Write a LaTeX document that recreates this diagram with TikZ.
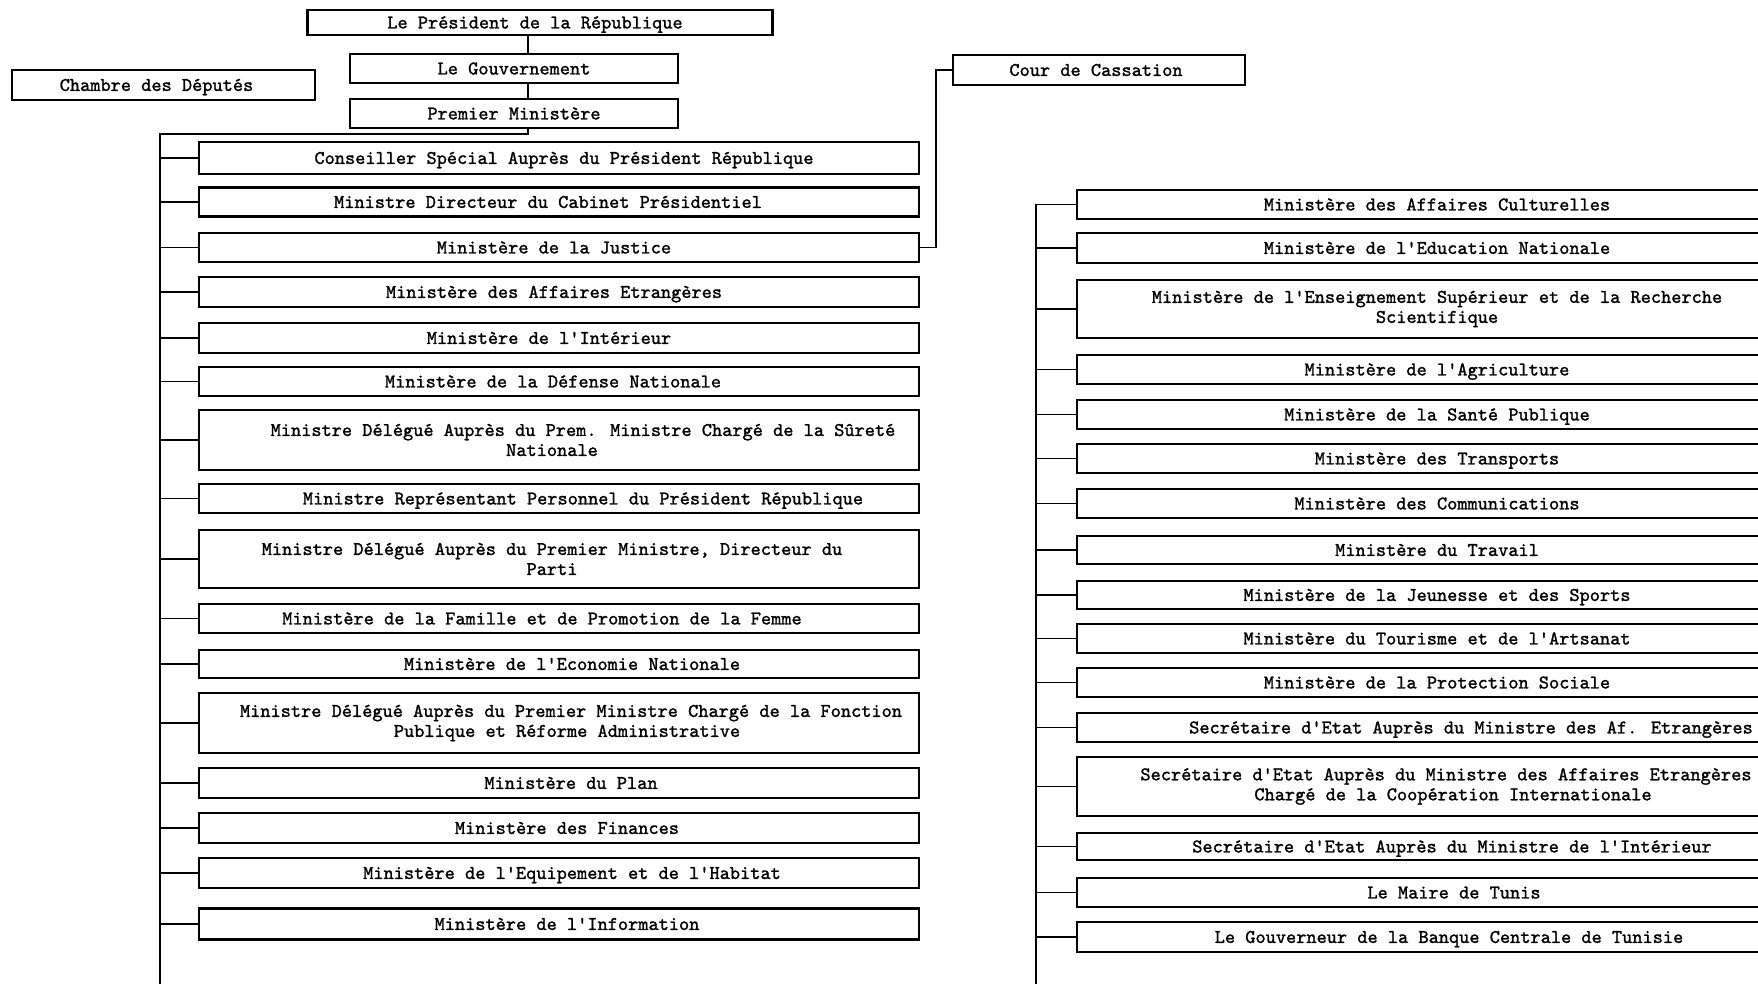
\documentclass[tikz,border=0pt]{standalone}
\usepackage{fontspec}
\newfontfamily\boxfont{lmmono10-regular.otf}[FakeBold=1.3]
\newcommand\sh[2]{\hspace*{#1pt}#2\hspace*{-#1pt}}
\begin{document}
\begin{tikzpicture}[x=1pt,y=-1pt,
  box/.style={draw, line width=2.3pt, inner sep=0pt, align=center,
    font=\boxfont\fontsize{19.4}{20}\selectfont},
  one/.style={text height=11.9pt, text depth=0pt},
  lbox/.style={box, one, minimum width=720pt},
  mbox/.style={box, minimum width=720pt},
  conn/.style={line width=1.4pt}]
\clip (0,0) rectangle (1758,984);
\fill[white] (0,0) rectangle (1758,984);
% top
\node[box, one, minimum width=465pt, minimum height=25pt] (pres) at (540,22.5) {\sh{-5}{Le Président de la République}};
\node[box, one, minimum width=328pt, minimum height=29pt] (gouv) at (514,68.5) {Le Gouvernement};
\node[box, one, minimum width=303pt, minimum height=30pt] (chambre) at (163.5,85) {\sh{-7}{Chambre des Députés}};
\node[box, one, minimum width=328pt, minimum height=29pt] (prem) at (514,113.5) {Premier Ministère};
\node[box, one, minimum width=292pt, minimum height=30pt] (cour) at (1099,70) {\sh{-3}{Cour de Cassation}};
% left column
\node[lbox, minimum height=32pt] (L1) at (559,158) {\sh{5}{Conseiller Spécial Auprès du Président République}};
\node[lbox, minimum height=29pt] (L2) at (559,202) {\sh{-11}{Ministre Directeur du Cabinet Présidentiel}};
\node[lbox, minimum height=29pt] (L3) at (559,247.5) {\sh{-5}{Ministère de la Justice}};
\node[lbox, minimum height=30pt] (L4) at (559,292) {\sh{-5}{Ministère des Affaires Etrangères}};
\node[lbox, minimum height=30pt] (L5) at (559,338) {\sh{-10}{Ministère de l'Intérieur}};
\node[lbox, minimum height=29pt] (L6) at (559,381.5) {\sh{-6}{Ministère de la Défense Nationale}};
\node[mbox, minimum height=60pt] (L7) at (559,440) {\sh{24}{Ministre Délégué Auprès du Prem. Ministre Chargé de la Sûreté}\\\sh{-7}{Nationale}};
\node[lbox, minimum height=29pt] (L8) at (559,498.5) {\sh{24}{Ministre Représentant Personnel du Président République}};
\node[mbox, minimum height=58pt] (L9) at (559,559) {\sh{-7}{Ministre Délégué Auprès du Premier Ministre, Directeur du}\\\sh{-7}{Parti}};
\node[lbox, minimum height=29pt] (L10) at (559,618.5) {\sh{-17}{Ministère de la Famille et de Promotion de la Femme}};
\node[lbox, minimum height=28pt] (L11) at (559,664) {\sh{13}{Ministère de l'Economie Nationale}};
\node[mbox, minimum height=60pt] (L12) at (559,723) {\sh{12}{Ministre Délégué Auprès du Premier Ministre Chargé de la Fonction}\\\sh{8}{Publique et Réforme Administrative}};
\node[lbox, minimum height=30pt] (L13) at (559,783) {\sh{12}{Ministère du Plan}};
\node[lbox, minimum height=30pt] (L14) at (559,828) {\sh{8}{Ministère des Finances}};
\node[lbox, minimum height=30pt] (L15) at (559,873) {\sh{13}{Ministère de l'Equipement et de l'Habitat}};
\node[lbox, minimum height=31pt] (L16) at (559,924) {\sh{8}{Ministère de l'Information}};
% right column
\node[lbox, minimum height=29pt] (R1) at (1437,204.5) {Ministère des Affaires Culturelles};
\node[lbox, minimum height=30pt] (R2) at (1437,248) {Ministère de l'Education Nationale};
\node[mbox, minimum height=58pt] (R3) at (1437,309) {Ministère de l'Enseignement Supérieur et de la Recherche\\Scientifique};
\node[lbox, minimum height=29pt] (R4) at (1437,369.5) {Ministère de l'Agriculture};
\node[lbox, minimum height=29pt] (R5) at (1437,414.5) {Ministère de la Santé Publique};
\node[lbox, minimum height=29pt] (R6) at (1437,458.5) {Ministère des Transports};
\node[lbox, minimum height=29pt] (R7) at (1437,503.5) {Ministère des Communications};
\node[lbox, minimum height=28pt] (R8) at (1437,550) {Ministère du Travail};
\node[lbox, minimum height=28pt] (R9) at (1437,595) {Ministère de la Jeunesse et des Sports};
\node[lbox, minimum height=29pt] (R10) at (1437,638.5) {Ministère du Tourisme et de l'Artsanat};
\node[lbox, minimum height=29pt] (R11) at (1437,682.5) {Ministère de la Protection Sociale};
\node[lbox, minimum height=29pt] (R12) at (1437,727.5) {\sh{34}{Secrétaire d'Etat Auprès du Ministre des Af. Etrangères}};
\node[mbox, minimum height=59pt] (R13) at (1437,786.5) {\sh{9}{Secrétaire d'Etat Auprès du Ministre des Affaires Etrangères}\\\sh{16}{Chargé de la Coopération Internationale}};
\node[lbox, minimum height=27pt] (R14) at (1437,846.5) {\sh{15}{Secrétaire d'Etat Auprès du Ministre de l'Intérieur}};
\node[lbox, minimum height=29pt] (R15) at (1437,892.5) {\sh{17}{Le Maire de Tunis}};
\node[lbox, minimum height=30pt] (R16) at (1437,937) {\sh{12}{Le Gouverneur de la Banque Centrale de Tunisie}};
% connectors
\coordinate (spine) at (528,0);
\coordinate (ltop) at (160,134);
\coordinate (lbot) at (160,984);
\coordinate (cx) at (936,0);
\coordinate (rx) at (1036,0);
\coordinate (rbot) at (1036,984);
\draw[conn] (pres.south -| spine) -- (gouv.north -| spine);
\draw[conn] (gouv.south -| spine) -- (prem.north -| spine);
\draw[conn] (prem.south -| spine) |- (ltop) -- (lbot);
\foreach \i in {1,...,16} {\draw[conn] (L\i.west -| ltop) -- (L\i.west);}
\draw[conn] (L3.east) -- (L3.east -| cx) -- (cour.west -| cx) -- (cour.west);
\draw[conn] (R1.west -| rx) -- (rbot);
\foreach \i in {1,...,16} {\draw[conn] (R\i.west -| rx) -- (R\i.west);}
\end{tikzpicture}
\end{document}
